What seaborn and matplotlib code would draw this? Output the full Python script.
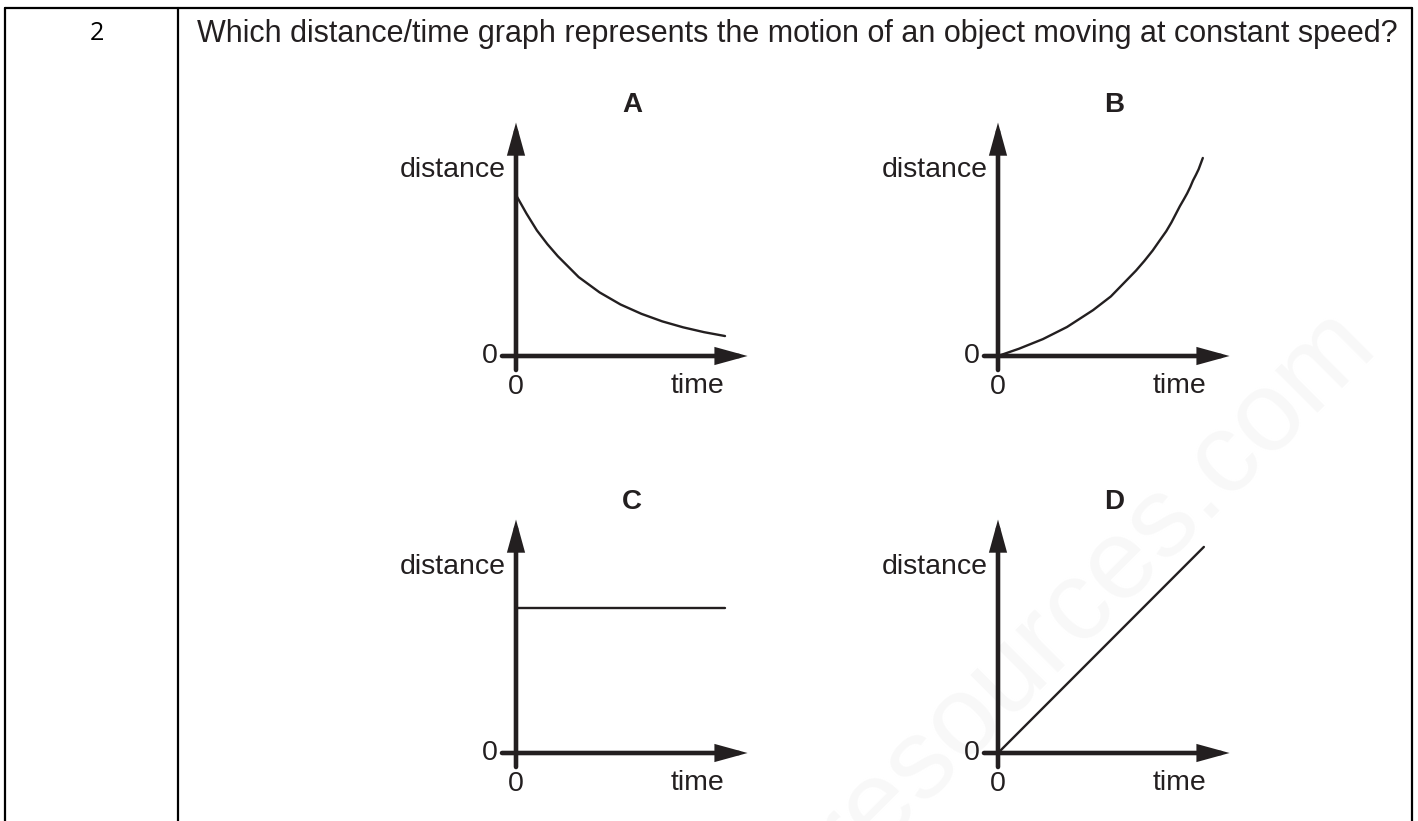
import matplotlib
matplotlib.use('Agg')
import matplotlib.pyplot as plt
import seaborn as sns
from matplotlib.lines import Line2D

# DATA

QUESTION_NO = '2'
QUESTION = 'Which distance/time graph represents the motion of an object moving at constant speed?'
PANEL_LETTERS = ['A', 'B', 'C', 'D']

# A: distance falls away (decaying curve)
time_a = [0.0, 0.05, 0.1, 0.15, 0.2, 0.3, 0.4, 0.5, 0.6, 0.7, 0.8, 0.9, 1.0]
dist_a = [1.0, 0.885, 0.78, 0.695, 0.62, 0.49, 0.395, 0.32, 0.262, 0.215, 0.178, 0.148, 0.124]

# B: distance grows faster and faster
time_b = [0.0, 0.1, 0.215, 0.33, 0.455, 0.54, 0.615, 0.66, 0.7, 0.74, 0.775, 0.805,
          0.83, 0.85, 0.87, 0.89, 0.905, 0.92, 0.933, 0.947, 0.96, 0.97, 0.98]
dist_b = [0.0, 0.045, 0.105, 0.18, 0.285, 0.37, 0.47, 0.53, 0.59, 0.655, 0.72, 0.775,
          0.83, 0.88, 0.93, 0.975, 1.01, 1.05, 1.09, 1.125, 1.16, 1.195, 1.23]

# C: distance stays the same
time_c = [0.0, 1.0]
dist_c = [0.90, 0.90]

# D: distance rises steadily
time_d = [0.0, 0.985]
dist_d = [0.0, 1.28]

CURVES = [(time_a, dist_a), (time_b, dist_b), (time_c, dist_c), (time_d, dist_d)]


# FIGURE SETUP

W, H = 1418, 821
INK = '#231f20'

sns.set_style('white')
plt.rcParams['font.family'] = ['Liberation Sans', 'DejaVu Sans']

fig = plt.figure(figsize=(W / 100, H / 100), dpi=100)


def fx(x):
    return x / W


def fy(y):
    return 1 - y / H


# background layer for the faint watermark, kept behind the graphs
bg = fig.add_axes([0, 0, 1, 1], zorder=-1)
bg.axis('off')
bg.text(fx(1378), fy(345), 'resources.com', fontsize=82, rotation=45, rotation_mode='anchor',
        ha='right', va='baseline', color='#f8f8f8', transform=bg.transAxes)

# table frame: top, left, right and the column separator
for (x0, y0, x1, y1) in [(5, 8, 1412, 8), (5, 8, 5, H), (1412, 8, 1412, H), (178, 8, 178, H)]:
    fig.add_artist(Line2D([fx(x0), fx(x1)], [fy(y0), fy(y1)], color='black', lw=1.6))

fig.text(fx(97), fy(33), QUESTION_NO, fontsize=18, ha='center', va='center',
         family=['Open Sans', 'DejaVu Sans'], color='black')
fig.text(fx(197), fy(34), QUESTION, fontsize=22, ha='left', va='center', color=INK)


# THE FOUR SMALL GRAPHS

PX_X, PX_Y = 209, 161          # pixels per unit of time / distance
XLIM, YLIM = (-0.2, 1.2), (-0.3, 1.6)
ORIGINS = [(516, 356), (998, 356), (516, 753), (998, 753)]

arrow_style = dict(arrowstyle='-|>,head_length=0.8,head_width=0.22', mutation_scale=20,
                   lw=3.3, color=INK, shrinkA=0, shrinkB=0, joinstyle='miter')

for letter, (ox, oy), (t, d) in zip(PANEL_LETTERS, ORIGINS, CURVES):
    left = ox + XLIM[0] * PX_X
    bottom = oy - YLIM[0] * PX_Y
    ax = fig.add_axes([fx(left), fy(bottom),
                       (XLIM[1] - XLIM[0]) * PX_X / W, (YLIM[1] - YLIM[0]) * PX_Y / H])
    ax.set_xlim(*XLIM)
    ax.set_ylim(*YLIM)
    ax.axis('off')
    ax.patch.set_alpha(0)

    sns.lineplot(x=t, y=d, ax=ax, color=INK, lw=1.7, estimator=None, sort=False)

    # axes with arrow heads
    ax.annotate('', xy=(1.108, 0), xytext=(-0.067, 0), arrowprops=arrow_style)
    ax.annotate('', xy=(0, 1.45), xytext=(0, -0.087), arrowprops=arrow_style)

    ax.text(0.555, 1.56, letter, fontsize=20, fontweight='bold', ha='center', va='center', color=INK)
    ax.text(-0.05, 1.155, 'distance', fontsize=20.5, ha='right', va='center', color=INK)
    ax.text(-0.125, 0.0, '0', fontsize=20.5, ha='center', va='center', color=INK)
    ax.text(0.0, -0.19, '0', fontsize=20.5, ha='center', va='center', color=INK)
    ax.text(0.87, -0.185, 'time', fontsize=20.5, ha='center', va='center', color=INK)

fig.savefig('out.png', dpi=100)
